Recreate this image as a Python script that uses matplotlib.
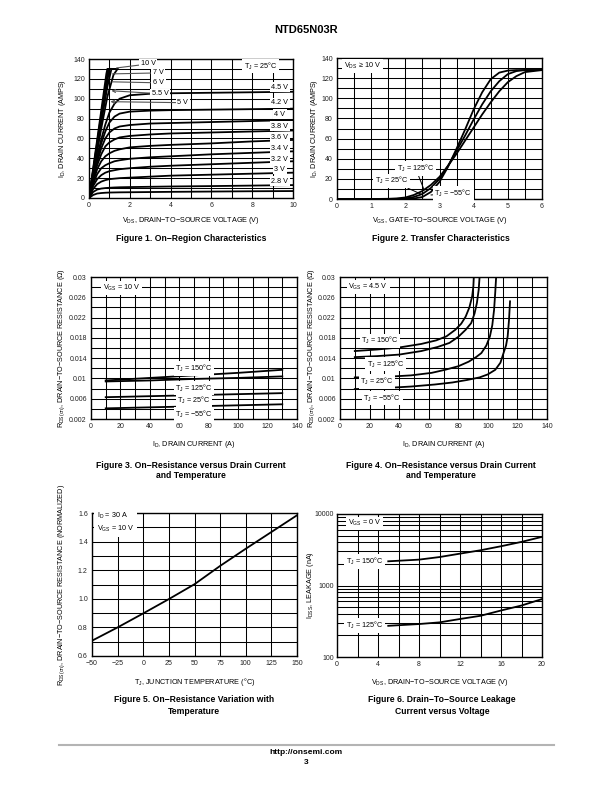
import matplotlib
matplotlib.use("Agg")
import matplotlib.pyplot as plt
from matplotlib.ticker import FixedLocator, FixedFormatter, NullFormatter

plt.rcParams["font.family"] = ["Liberation Sans", "DejaVu Sans"]
plt.rcParams["mathtext.default"] = "regular"

# Figure 1: on-region characteristics (T_J = 25 C)
VDS_ON = [0, 0.2, 0.4, 0.6, 0.8, 1.0, 1.25, 1.5, 2, 3, 4, 6, 8, 10]
ID_ON = {
    "4.5 V": [0, 21, 41, 59, 74, 86, 95, 100, 103.5, 105, 105.5, 106, 106.5, 107],
    "4.2 V": [0, 20, 39, 55, 67, 76, 82, 85, 87, 88, 88.5, 89, 89.5, 90],
    "4 V":   [0, 19, 36, 50, 60, 66, 70, 72, 73.5, 75, 75.5, 76.5, 77.5, 78.5],
    "3.8 V": [0, 18, 33, 44, 52, 56, 59, 61, 62.5, 64, 65, 66, 67, 68],
    "3.6 V": [0, 16, 29, 37, 42, 45, 47.5, 49, 51, 52.5, 53.5, 55, 57, 58.5],
    "3.4 V": [0, 14, 24, 30, 33, 35, 37, 38, 39.5, 41, 42, 44, 45.5, 47],
    "3.2 V": [0, 12, 19, 23, 25.5, 27, 28, 29, 30, 31.5, 32.5, 34, 35.5, 37],
    "3 V":   [0, 9, 14, 16.5, 18, 19, 19.5, 20, 20.5, 21.5, 22.5, 23.5, 24.5, 25.5],
    "2.8 V": [0, 6, 8.5, 9.5, 10, 10.3, 10.6, 10.8, 11, 11.3, 11.6, 12, 12.5, 13],
    "":      [0, 3, 4.5, 5, 5.3, 5.5, 5.6, 5.7, 5.8, 6, 6.2, 6.5, 6.8, 7],
}
RIGHT_LABEL_ID = [111.5, 96, 84.5, 72.5, 61, 50, 39, 29, 17]

VDS_HI = {
    "10 V":  [0, 0.3, 0.6, 0.85, 0.9, 1.4],
    "7 V":   [0, 0.3, 0.6, 0.9, 0.95, 1.3],
    "6 V":   [0, 0.3, 0.6, 0.9, 1.0, 1.2],
    "5.5 V": [0, 0.3, 0.6, 0.9, 1.1],
    "5 V":   [0, 0.3, 0.6, 0.9, 1.2, 1.4],
}
ID_HI = {
    "10 V":  [0, 44, 88, 125, 130, 130],
    "7 V":   [0, 42, 84, 124, 130, 130],
    "6 V":   [0, 40, 80, 118, 130, 130],
    "5.5 V": [0, 38, 76, 112, 130],
    "5 V":   [0, 35, 70, 102, 124, 130],
}
HI_LABEL_POS = {"10 V": (2.9, 135), "7 V": (3.4, 126), "6 V": (3.4, 116),
                "5.5 V": (3.5, 105), "5 V": (4.6, 96)}
HI_LABEL_TARGET = {"10 V": (1.35, 131), "7 V": (1.15, 125), "6 V": (1.15, 117),
                   "5.5 V": (1.1, 108), "5 V": (1.05, 97)}

# Figure 2: transfer characteristics
VGS = [0, 1, 1.5, 1.75, 2, 2.25, 2.5, 2.75, 3, 3.25, 3.5, 3.75, 4, 4.25, 4.5,
       4.75, 5, 5.25, 5.5, 6]
ID_125 = [0, 0, 0.2, 0.6, 1.5, 4, 8, 14, 22, 33, 45, 58, 71, 84, 96,
          107, 116, 122, 126, 128]
ID_25 = [0, 0, 0, 0.1, 0.5, 2, 5, 11, 20, 33, 48, 63, 79, 94, 107,
         117, 124, 127, 128, 128]
ID_M55 = [0, 0, 0, 0, 0, 0.5, 2, 7, 17, 32, 50, 69, 89, 106, 119,
          125.5, 127.5, 128, 128, 128]

# Figure 3: R_DS(on) vs I_D, V_GS = 10 V
ID_R10 = [10, 40, 70, 100, 130]
R10_150 = [0.0096, 0.0101, 0.0106, 0.0111, 0.0117]
R10_125 = [0.0094, 0.0096, 0.0099, 0.0101, 0.0104]
R10_25 = [0.0063, 0.0065, 0.0067, 0.0069, 0.0071]
R10_M55 = [0.0041, 0.0043, 0.0045, 0.0047, 0.0049]

# Figure 4: R_DS(on) vs I_D, V_GS = 4.5 V
ID_R45_150 = [10, 25, 40, 55, 65, 72, 78, 82, 85, 87.5, 89.4, 90.2, 90.5]
R45_150 = [0.0154, 0.0157, 0.0161, 0.0168, 0.0175, 0.0183, 0.0196, 0.0208,
           0.0222, 0.0240, 0.0262, 0.0282, 0.03]
ID_R45_125 = [10, 25, 40, 55, 66, 74, 80, 85, 88.7, 91, 92.6, 93.8, 94.4]
R45_125 = [0.0142, 0.0144, 0.0147, 0.0154, 0.0162, 0.0170, 0.0182, 0.0196,
           0.0209, 0.0228, 0.0249, 0.0275, 0.03]
ID_R45_25 = [10, 30, 48, 62, 71, 80, 87, 92, 95.6, 99, 101.4, 103, 104.2, 105, 105.6]
R45_25 = [0.0102, 0.0103, 0.0106, 0.0111, 0.0117, 0.0124, 0.0133, 0.0142,
          0.015, 0.0165, 0.0183, 0.0205, 0.0235, 0.027, 0.03]
ID_R45_M55 = [10, 30, 48, 64, 76, 86, 94.4, 100, 105, 108.5, 110.6, 112.3, 113.4, 114.3, 115]
R45_M55 = [0.0079, 0.0081, 0.0084, 0.0088, 0.0092, 0.0097, 0.0102, 0.0108,
           0.0117, 0.0131, 0.015, 0.0165, 0.0183, 0.0215, 0.0252]

# Figure 5: normalized R_DS(on) vs T_J
TJ = [-50, -25, 0, 25, 50, 75, 100, 125, 150]
R_NORM = [0.707, 0.80, 0.898, 0.998, 1.102, 1.23, 1.35, 1.467, 1.584]

# Figure 6: I_DSS vs V_DS
VDS_LK = [5, 8, 10, 12, 14, 16, 18, 20]
IDSS_150 = [2180, 2300, 2500, 2790, 3110, 3540, 4075, 4790]
IDSS_125 = [273, 289, 305, 340, 377, 447, 525, 646]

W, H = 612, 792
fig = plt.figure(figsize=(W / 100, H / 100), dpi=100)

TICK_FS = 5
LABEL_FS = 5.2
NOTE_FS = 5.2
CAP_FS = 6.2
LW = 1.3
BOX = dict(facecolor="white", edgecolor="none", pad=1.2)


def make_axes(x0, y0, x1, y1):
    # pixel box (top-left origin) -> axes
    ax = fig.add_axes([x0 / W, 1 - y1 / H, (x1 - x0) / W, (y1 - y0) / H])
    ax._px = (x0, y0, x1, y1)
    return ax


def grid_setup(ax, xmaj, xlab, xgrid, ymaj, ylab, ygrid):
    ax.xaxis.set_major_locator(FixedLocator(xmaj))
    ax.xaxis.set_major_formatter(FixedFormatter(xlab))
    ax.yaxis.set_major_locator(FixedLocator(ymaj))
    ax.yaxis.set_major_formatter(FixedFormatter(ylab))
    ax.xaxis.set_minor_locator(FixedLocator(xgrid))
    ax.yaxis.set_minor_locator(FixedLocator(ygrid))
    ax.xaxis.set_minor_formatter(NullFormatter())
    ax.yaxis.set_minor_formatter(NullFormatter())
    ax.grid(True, which="both", color="black", lw=0.75)
    ax.set_axisbelow(True)
    ax.tick_params(which="both", length=0, labelsize=TICK_FS, pad=3, colors="#222222")
    for s in ax.spines.values():
        s.set_linewidth(1.0)


def labels(ax, xtxt, ytxt, xlab_y, ylab_x):
    # place axis titles at pixel positions
    x0, y0, x1, y1 = ax._px
    ax.set_xlabel(xtxt, fontsize=LABEL_FS)
    ax.set_ylabel(ytxt, fontsize=LABEL_FS)
    ax.xaxis.set_label_coords(0.5, (y1 - xlab_y) / (y1 - y0))
    ax.yaxis.set_label_coords((ylab_x - x0) / (x1 - x0), 0.5)
    ax.xaxis.label.set_va("center")
    ax.yaxis.label.set_va("center")


def caption(x, y, txt):
    fig.text(x / W, 1 - y / H, txt, ha="center", va="center",
             fontsize=CAP_FS, fontweight="bold")


fig.text(306 / W, 1 - 30 / H, "NTD65N03R", ha="center", va="center",
         fontsize=8, fontweight="bold")

# ---- Figure 1
ax1 = make_axes(89, 59, 293, 198)
for name, ids in ID_ON.items():
    ax1.plot(VDS_ON, ids, color="black", lw=LW)
for name in VDS_HI:
    ax1.plot(VDS_HI[name], ID_HI[name], color="black", lw=LW)
for name, (lx, ly) in HI_LABEL_POS.items():
    tx, ty = HI_LABEL_TARGET[name]
    style = "->" if name in ("5.5 V", "5 V") else "-"
    ax1.annotate(name, xy=(tx, ty), xytext=(lx, ly), fontsize=NOTE_FS,
                 ha="center", va="center", bbox=BOX,
                 arrowprops=dict(arrowstyle=style, color="#555555", lw=0.8,
                                 shrinkA=0, shrinkB=0))
for name, ly in zip([k for k in ID_ON if k], RIGHT_LABEL_ID):
    ax1.text(9.35, ly, name, fontsize=NOTE_FS, ha="center", va="center", bbox=BOX)
ax1.text(8.4, 133, "T$_J$ = 25°C", fontsize=NOTE_FS, ha="center", va="center", bbox=BOX)
ax1.set_xlim(0, 10)
ax1.set_ylim(0, 140)
grid_setup(ax1, [0, 2, 4, 6, 8, 10], ["0", "2", "4", "6", "8", "10"], list(range(11)),
           list(range(0, 141, 20)), [str(v) for v in range(0, 141, 20)],
           list(range(0, 141, 10)))
labels(ax1, "V$_{DS}$, DRAIN−TO−SOURCE VOLTAGE (V)", "I$_D$, DRAIN CURRENT (AMPS)", 221, 62)
caption(191, 239, "Figure 1. On−Region Characteristics")

# ---- Figure 2
ax2 = make_axes(337, 58, 542, 199)
ax2.plot(VGS, ID_125, color="black", lw=LW)
ax2.plot(VGS, ID_25, color="black", lw=LW)
ax2.plot(VGS, ID_M55, color="black", lw=LW)
ax2.set_xlim(0, 6)
ax2.set_ylim(0, 140)
grid_setup(ax2, list(range(7)), [str(v) for v in range(7)], [v * 0.5 for v in range(13)],
           list(range(0, 141, 20)), [str(v) for v in range(0, 141, 20)],
           list(range(0, 141, 10)))
ax2.text(0.75, 132, "V$_{DS}$ ≥ 10 V", fontsize=NOTE_FS, ha="center", va="center", bbox=BOX)
for txt, xy, xyt in [("T$_J$ = 125°C", (2.55, 9), (2.3, 30.5)),
                     ("T$_J$ = 25°C", (2.45, 5), (1.6, 18)),
                     ("T$_J$ = −55°C", (2.75, 4), (3.4, 5.5))]:
    ax2.annotate(txt, xy=xy, xytext=xyt, fontsize=NOTE_FS, ha="center", va="center",
                 bbox=BOX, arrowprops=dict(arrowstyle="-", color="black", lw=0.7,
                                           shrinkA=0, shrinkB=0))
labels(ax2, "V$_{GS}$, GATE−TO−SOURCE VOLTAGE (V)", "I$_D$, DRAIN CURRENT (AMPS)", 221, 315)
caption(441, 239, "Figure 2. Transfer Characteristics")

R_MAJ = [0.002, 0.006, 0.01, 0.014, 0.018, 0.022, 0.026, 0.03]
R_LAB = ["0.002", "0.006", "0.01", "0.014", "0.018", "0.022", "0.026", "0.03"]
R_GRID = [0.002 * k for k in range(1, 16)]
ID_MAJ = list(range(0, 141, 20))
ID_GRID = list(range(0, 141, 10))

# ---- Figure 3
ax3 = make_axes(91, 277, 297, 419)
for r in (R10_150, R10_125, R10_25, R10_M55):
    ax3.plot(ID_R10, r, color="black", lw=LW)
ax3.set_xlim(0, 140)
ax3.set_ylim(0.002, 0.03)
grid_setup(ax3, ID_MAJ, [str(v) for v in ID_MAJ], ID_GRID, R_MAJ, R_LAB, R_GRID)
ax3.text(21, 0.0278, "V$_{GS}$ = 10 V", fontsize=NOTE_FS, ha="center", va="center", bbox=BOX)
for txt, y in [("T$_J$ = 150°C", 0.0120), ("T$_J$ = 125°C", 0.0081),
               ("T$_J$ = 25°C", 0.0056), ("T$_J$ = −55°C", 0.0030)]:
    ax3.text(70, y, txt, fontsize=NOTE_FS, ha="center", va="center", bbox=BOX)
labels(ax3, "I$_D$, DRAIN CURRENT (A)", "R$_{DS(on)}$, DRAIN−TO−SOURCE RESISTANCE (Ω)", 444, 62)
caption(191, 465, "Figure 3. On−Resistance versus Drain Current")
caption(191, 476, "and Temperature")

# ---- Figure 4
ax4 = make_axes(340, 277, 547, 419)
ax4.plot(ID_R45_150, R45_150, color="black", lw=LW)
ax4.plot(ID_R45_125, R45_125, color="black", lw=LW)
ax4.plot(ID_R45_25, R45_25, color="black", lw=LW)
ax4.plot(ID_R45_M55, R45_M55, color="black", lw=LW)
ax4.set_xlim(0, 140)
ax4.set_ylim(0.002, 0.03)
grid_setup(ax4, ID_MAJ, [str(v) for v in ID_MAJ], ID_GRID, R_MAJ, R_LAB, R_GRID)
ax4.text(19, 0.028, "V$_{GS}$ = 4.5 V", fontsize=NOTE_FS, ha="center", va="center", bbox=BOX)
for txt, x, y in [("T$_J$ = 150°C", 27, 0.0174), ("T$_J$ = 125°C", 31, 0.0128),
                  ("T$_J$ = 25°C", 25, 0.0094), ("T$_J$ = −55°C", 28.5, 0.0061)]:
    ax4.text(x, y, txt, fontsize=NOTE_FS, ha="center", va="center", bbox=BOX)
labels(ax4, "I$_D$, DRAIN CURRENT (A)", "R$_{DS(on)}$, DRAIN−TO−SOURCE RESISTANCE (Ω)", 444, 312)
caption(441, 465, "Figure 4. On−Resistance versus Drain Current")
caption(441, 476, "and Temperature")

# ---- Figure 5
ax5 = make_axes(92, 513, 297, 656)
ax5.plot(TJ, R_NORM, color="black", lw=LW)
ax5.set_xlim(-50, 150)
ax5.set_ylim(0.6, 1.6)
grid_setup(ax5, TJ, ["−50", "−25", "0", "25", "50", "75", "100", "125", "150"], TJ,
           [0.6, 0.8, 1.0, 1.2, 1.4, 1.6], ["0.6", "0.8", "1.0", "1.2", "1.4", "1.6"],
           [0.6 + 0.1 * k for k in range(11)])
ax5.text(-45, 1.535, "I$_D$ = 30 A\nV$_{GS}$ = 10 V", fontsize=NOTE_FS, ha="left",
         va="center", linespacing=1.5, bbox=dict(facecolor="white", edgecolor="none", pad=2))
labels(ax5, "T$_J$, JUNCTION TEMPERATURE (°C)",
       "R$_{DS(on)}$, DRAIN−TO−SOURCE RESISTANCE (NORMALIZED)", 682, 62)
caption(194, 700, "Figure 5. On−Resistance Variation with")
caption(194, 711, "Temperature")

# ---- Figure 6
ax6 = make_axes(337, 514, 542, 657)
ax6.plot(VDS_LK, IDSS_150, color="black", lw=LW)
ax6.plot(VDS_LK, IDSS_125, color="black", lw=LW)
ax6.set_yscale("log")
ax6.set_xlim(0, 20)
ax6.set_ylim(100, 10000)
log_grid = [m * d for d in (100, 1000) for m in range(1, 10)] + [10000]
grid_setup(ax6, [0, 4, 8, 12, 16, 20], ["0", "4", "8", "12", "16", "20"],
           list(range(0, 21, 2)), [100, 1000, 10000], ["100", "1000", "10000"], log_grid)
ax6.tick_params(axis="y", pad=2)
ax6.text(2.7, 7400, "V$_{GS}$ = 0 V", fontsize=NOTE_FS, ha="center", va="center", bbox=BOX)
ax6.text(2.7, 2180, "T$_J$ = 150°C", fontsize=NOTE_FS, ha="center", va="center", bbox=BOX)
ax6.text(2.7, 275, "T$_J$ = 125°C", fontsize=NOTE_FS, ha="center", va="center", bbox=BOX)
labels(ax6, "V$_{DS}$, DRAIN−TO−SOURCE VOLTAGE (V)", "I$_{DSS}$, LEAKAGE (nA)", 682, 311)
caption(442, 700, "Figure 6. Drain−To−Source Leakage")
caption(442, 711, "Current versus Voltage")

# footer
fig.add_artist(plt.Line2D([59 / W, 554 / W], [1 - 745 / H, 1 - 745 / H],
                          color="#b4b4b4", lw=1.5))
fig.text(306 / W, 1 - 753 / H, "http://onsemi.com", ha="center", va="center",
         fontsize=6, fontweight="bold")
fig.text(306 / W, 1 - 763 / H, "3", ha="center", va="center", fontsize=6, fontweight="bold")

fig.savefig("out.png", dpi=100)
